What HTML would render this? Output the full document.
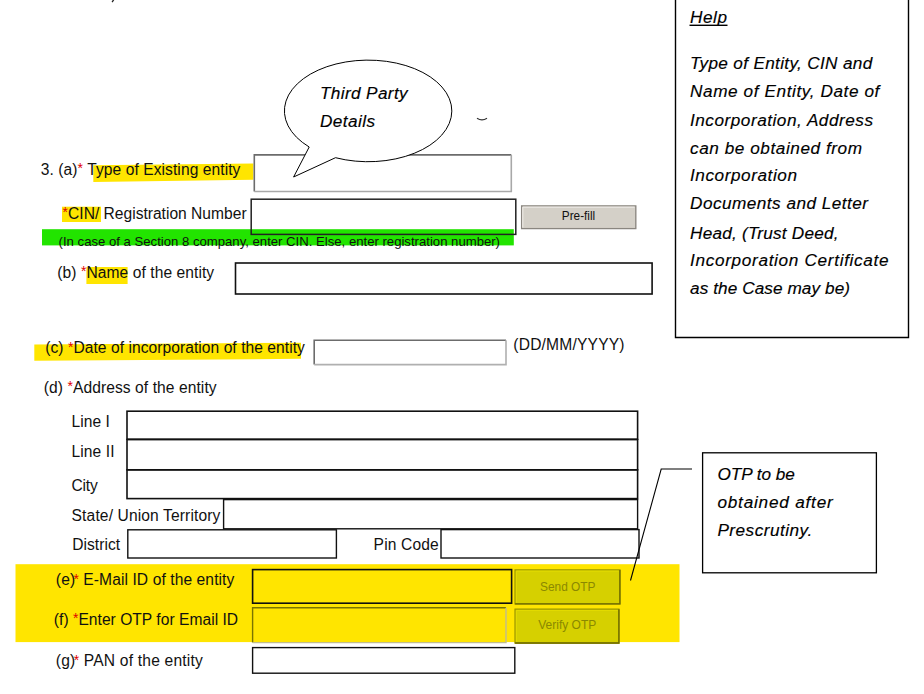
<!DOCTYPE html>
<html><head><meta charset="utf-8">
<style>
html,body{margin:0;padding:0;background:#fff;width:924px;height:694px;overflow:hidden}
svg{display:block}
.t{font-family:"Liberation Sans",sans-serif;font-size:15.6px;fill:#111}
.r{fill:#e00000}
.s{font-family:"Liberation Sans",sans-serif;font-size:13.1px;fill:#111}
.b{font-family:"Liberation Sans",sans-serif;font-size:12px;fill:#111}
.i{font-family:"Liberation Sans",sans-serif;font-style:italic;font-size:17.2px;fill:#000;stroke:#000;stroke-width:0.15px}
</style></head>
<body>
<svg width="924" height="694" viewBox="0 0 924 694">
<path d="M113.8 -0.5 L112.1 2.1" stroke="#222" stroke-width="1.3"/>
<path d="M675.5 -2 V337.5 H908.5 V-2" fill="none" stroke="#000" stroke-width="1.4"/>
<text class="i" x="690" y="22.7" textLength="37" lengthAdjust="spacing">Help</text>
<rect x="689.5" y="24.6" width="38.0" height="1.4" fill="#000"/>
<text class="i" x="690" y="68.6" textLength="182.2" lengthAdjust="spacing">Type of Entity, CIN and</text>
<text class="i" x="690" y="96.9" textLength="189.4" lengthAdjust="spacing">Name of Entity, Date of</text>
<text class="i" x="690" y="125.7" textLength="183" lengthAdjust="spacing">Incorporation, Address</text>
<text class="i" x="690" y="153.8" textLength="172" lengthAdjust="spacing">can be obtained from</text>
<text class="i" x="690" y="181.2" textLength="107" lengthAdjust="spacing">Incorporation</text>
<text class="i" x="690" y="209.3" textLength="178" lengthAdjust="spacing">Documents and Letter</text>
<text class="i" x="690" y="238.6" textLength="148.6" lengthAdjust="spacing">Head, (Trust Deed,</text>
<text class="i" x="690" y="265.7" textLength="198.6" lengthAdjust="spacing">Incorporation Certificate</text>
<text class="i" x="690" y="294.3" textLength="160" lengthAdjust="spacing">as the Case may be)</text>
<path d="M93.3 165.2 L253.3 163.4 L253.3 179.7 L93.3 181.9 Z" fill="#ffe500"/>
<text id="ta" class="t" x="40.8" y="174.6" textLength="199.59" lengthAdjust="spacing">3. (a)<tspan class="r" dy="-1.5" style="font-size:14px">*</tspan><tspan dy="1.5"> Type of Existing entity</tspan></text>
<rect x="254.3" y="154.9" width="257.0" height="36.6" fill="#fff"/>
<path d="M254.3 191.5 V154.9 H511.3" fill="none" stroke="#6c6c6c" stroke-width="1.6"/>
<path d="M511.3 154.9 V191.5 H254.3" fill="none" stroke="#a8a8a8" stroke-width="1.6"/>
<path d="M309.2 147 L293.6 177 L335.5 157.7 A83.7 50.8 0 1 0 309.2 147 Z" fill="#fff" stroke="#000" stroke-width="1.0"/>
<text class="i" x="320" y="98.8" textLength="87.6" lengthAdjust="spacing">Third Party</text>
<text class="i" x="320" y="126.5" textLength="55" lengthAdjust="spacing">Details</text>
<path d="M477 118.3 Q482 121.6 487 118.3" fill="none" stroke="#333" stroke-width="1.2"/>
<rect x="62" y="206.7" width="39" height="15.3" fill="#ffe500"/>
<text id="tcin" class="t" x="62.6" y="218.6" textLength="183.98" lengthAdjust="spacing"><tspan class="r" dy="-1.5" style="font-size:14px">*</tspan><tspan dy="1.5">CIN/ Registration Number</tspan></text>
<rect x="42" y="229.2" width="471.8" height="16.2" fill="#22e400"/>
<text class="s" x="58.6" y="245.5" textLength="441.4" lengthAdjust="spacingAndGlyphs">(In case of a Section 8 company, enter CIN. Else, enter registration number)</text>
<rect x="251.2" y="199.2" width="264.6" height="35.2" fill="none" stroke="#222" stroke-width="1.5"/>
<rect x="521" y="205.7" width="115.2" height="23.3" fill="#d4d0c8"/>
<rect x="521.6" y="205.9" width="114.2" height="22.7" fill="none" stroke="#8a8680" stroke-width="1.3"/>
<path d="M522.8 227.6 V207.1 H634.6" fill="none" stroke="#f2f0ec" stroke-width="1"/>
<text class="b" x="561.8" y="220.2" textLength="33.4" lengthAdjust="spacingAndGlyphs">Pre-fill</text>
<rect x="86.4" y="267" width="41.2" height="17" fill="#ffe500"/>
<text id="tb" class="t" x="57.3" y="277.6" textLength="156.81" lengthAdjust="spacing">(b) <tspan class="r" dy="-1.5" style="font-size:14px">*</tspan><tspan dy="1.5">Name of the entity</tspan></text>
<rect x="235.5" y="263" width="416.6" height="31" fill="none" stroke="#111" stroke-width="1.6"/>
<path d="M34.3 344.6 L301 342.8 L301 358.8 L34.3 360.8 Z" fill="#ffe500"/>
<text id="tc" class="t" x="45.2" y="353.3" textLength="259.69" lengthAdjust="spacing">(c) <tspan class="r" dy="-1.5" style="font-size:14px">*</tspan><tspan dy="1.5">Date of incorporation of the entity</tspan></text>
<path d="M314.2 364.6 V340.3 H506" fill="none" stroke="#6c6c6c" stroke-width="1.6"/>
<path d="M506 340.3 V364.6 H314.2" fill="none" stroke="#b0b0b0" stroke-width="1.6"/>
<text id="tdd" class="t" x="513.3" y="350.3" textLength="111.26" lengthAdjust="spacing">(DD/MM/YYYY)</text>
<text id="td" class="t" x="43.8" y="392.6" textLength="172.8" lengthAdjust="spacing">(d) <tspan class="r" dy="-1.5" style="font-size:14px">*</tspan><tspan dy="1.5">Address of the entity</tspan></text>
<text id="tl1" class="t" x="71.6" y="427" textLength="38.36" lengthAdjust="spacing">Line I</text>
<text id="tl2" class="t" x="71.4" y="456.8" textLength="43.08" lengthAdjust="spacing">Line II</text>
<text id="tcity" class="t" x="71.4" y="490.6" textLength="26.36" lengthAdjust="spacing">City</text>
<text id="tstate" class="t" x="71.6" y="520.5" textLength="148.79" lengthAdjust="spacing">State/ Union Territory</text>
<text id="tdist" class="t" x="72.2" y="550" textLength="47.86" lengthAdjust="spacing">District</text>
<text id="tpin" class="t" x="373.6" y="550" textLength="65.16" lengthAdjust="spacing">Pin Code</text>
<rect x="127" y="411.2" width="510.6" height="28.0" fill="none" stroke="#111" stroke-width="1.6"/>
<rect x="127" y="439.6" width="510.6" height="30.2" fill="none" stroke="#111" stroke-width="1.6"/>
<rect x="127" y="469.8" width="510.6" height="28.8" fill="none" stroke="#111" stroke-width="1.6"/>
<rect x="223.6" y="499.6" width="414.0" height="29.2" fill="none" stroke="#111" stroke-width="1.4"/>
<rect x="127.8" y="529.8" width="208.6" height="28.2" fill="none" stroke="#111" stroke-width="1.4"/>
<rect x="441" y="529.6" width="198" height="28.4" fill="none" stroke="#111" stroke-width="1.4"/>
<rect x="15.5" y="564.2" width="664.0" height="77.9" fill="#ffe500"/>
<text id="te" class="t" x="55.85" y="585" textLength="178.47" lengthAdjust="spacing">(e)<tspan class="r" dy="-1.5" dx="-1.8" style="font-size:14px">*</tspan><tspan dy="1.5"> E-Mail ID of the entity</tspan></text>
<text id="tf" class="t" x="53.8" y="624.6" textLength="184.29" lengthAdjust="spacing">(f) <tspan class="r" dy="-1.5" style="font-size:14px">*</tspan><tspan dy="1.5">Enter OTP for Email ID</tspan></text>
<rect x="252.6" y="569.6" width="259.0" height="33.6" fill="none" stroke="#111" stroke-width="1.6"/>
<path d="M252.6 642.6 V607.8 H506.0" fill="none" stroke="#7a7400" stroke-width="1.4"/>
<path d="M506.0 607.8 V642.6 H252.6" fill="none" stroke="#c0bc90" stroke-width="1.4"/>
<rect x="514.5" y="569.3" width="106.0" height="35.2" fill="#d6d000"/>
<rect x="515.1" y="569.9" width="104.8" height="34" fill="none" stroke="#a09a00" stroke-width="1.3"/>
<path d="M516.3 602.7 V571.1 H618.7" fill="none" stroke="#e4dc00" stroke-width="1"/>
<path d="M619.9 569.9 V603.9 H515.1" fill="none" stroke="#6e6a00" stroke-width="1.3"/>
<text class="b" x="540" y="590.7" textLength="55.5" lengthAdjust="spacingAndGlyphs" style="fill:#8a8800">Send OTP</text>
<rect x="514.5" y="608.6" width="105.0" height="35.0" fill="#d6d000"/>
<rect x="515.1" y="609.2" width="103.8" height="33.8" fill="none" stroke="#a09a00" stroke-width="1.3"/>
<path d="M516.3 641.8 V610.4 H617.7" fill="none" stroke="#e4dc00" stroke-width="1"/>
<path d="M618.9 609.2 V643 H515.1" fill="none" stroke="#6e6a00" stroke-width="1.3"/>
<text class="b" x="538.3" y="629.3" textLength="57.9" lengthAdjust="spacingAndGlyphs" style="fill:#8a8800">Verify OTP</text>
<text id="tg" class="t" x="55.8" y="666.4" textLength="147.02" lengthAdjust="spacing">(g)<tspan class="r" dy="-1.5" dx="-1.8" style="font-size:14px">*</tspan><tspan dy="1.5"> PAN of the entity</tspan></text>
<rect x="252.6" y="647.6" width="262.2" height="25.6" fill="none" stroke="#111" stroke-width="1.4"/>
<path d="M692 469 H661.2 L630.5 580.5" fill="none" stroke="#000" stroke-width="1.1"/>
<rect x="702.6" y="452.8" width="173.8" height="120.0" fill="#fff" stroke="#000" stroke-width="1.3"/>
<text class="i" x="717.4" y="480" textLength="77.4" lengthAdjust="spacing">OTP to be</text>
<text class="i" x="717.4" y="507.5" textLength="115.3" lengthAdjust="spacing">obtained after</text>
<text class="i" x="717.4" y="535.7" textLength="94.8" lengthAdjust="spacing">Prescrutiny.</text>
</svg>
</body></html>
